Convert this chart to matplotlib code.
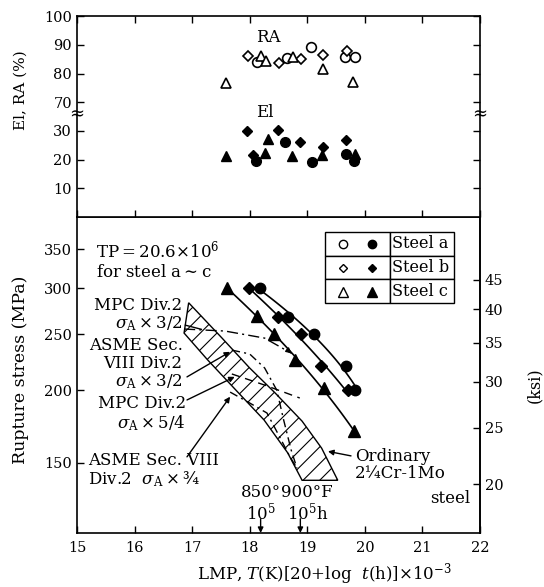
import numpy as np
import matplotlib
matplotlib.use("Agg")
import matplotlib.pyplot as plt
from matplotlib.ticker import NullLocator

plt.rcParams['font.family'] = ['DejaVu Serif']
plt.rcParams['mathtext.fontset'] = 'dejavuserif'
plt.rcParams['hatch.linewidth'] = 0.8

# rupture data: LMP (x10^-3) vs rupture stress (MPa)
a_lmp = [18.18, 18.66, 19.11, 19.68, 19.83]
a_stress = [300, 267, 250, 220, 200]
b_lmp = [17.98, 18.49, 18.89, 19.24, 19.70]
b_stress = [300, 267, 250, 220, 200]
c_lmp = [17.60, 18.13, 18.42, 18.79, 19.29, 19.81]
c_stress = [300, 269, 250, 226, 202, 170]

# reduction of area (%)
a_ra_lmp = [18.13, 18.65, 19.06, 19.65, 19.83]
a_ra = [84.0, 85.4, 89.2, 85.8, 85.8]
b_ra_lmp = [17.97, 18.51, 18.89, 19.27, 19.69]
b_ra = [86.1, 83.7, 85.2, 86.3, 87.8]
c_ra_lmp = [17.59, 18.19, 18.28, 18.75, 19.28, 19.80]
c_ra = [76.7, 86.1, 84.4, 85.8, 81.6, 77.1]

# elongation (%)
a_el_lmp = [18.11, 18.61, 19.09, 19.67, 19.81]
a_el = [19.5, 26.1, 19.2, 22.1, 19.5]
b_el_lmp = [17.96, 18.06, 18.49, 18.87, 19.27, 19.68]
b_el = [30.0, 21.5, 30.2, 26.1, 24.4, 26.7]
c_el_lmp = [17.59, 18.26, 18.31, 18.74, 19.25, 19.83]
c_el = [21.2, 22.3, 27.3, 21.2, 21.5, 21.9]

# scatter band of ordinary 2.25Cr-1Mo steel
band_hi_lmp = [16.94, 17.52, 18.00, 18.44, 18.91, 19.25, 19.53]
band_hi_stress = [283, 246, 218.5, 198, 177, 159, 140]
band_lo_lmp = [16.86, 17.27, 17.76, 18.25, 18.66, 18.91]
band_lo_stress = [251, 225.6, 200.2, 177.8, 156.1, 140]

# design allowable curves
mpc32_lmp = [16.86, 17.57, 18.26, 18.73]
mpc32_stress = [255, 253, 246, 231.5]
asme32_lmp = [17.69, 18.00, 18.26, 18.47, 18.59, 18.72, 18.82]
asme32_stress = [234.6, 231, 218.5, 200.2, 177.8, 157.9, 147]
mpc54_lmp = [17.69, 18.26, 18.87]
mpc54_stress = [213.4, 204.2, 194]
asme34_lmp = [17.66, 18.00, 18.30, 18.52, 18.70, 18.82]
asme34_stress = [198.6, 190.2, 182.8, 166.3, 153.6, 147]

# 850F / 900F at 1e5 h
ref_lmp = [18.19, 18.88]

steels = [
    (a_lmp, a_stress, a_ra_lmp, a_ra, a_el_lmp, a_el, 'o', 7.5),
    (b_lmp, b_stress, b_ra_lmp, b_ra, b_el_lmp, b_el, 'D', 6),
    (c_lmp, c_stress, c_ra_lmp, c_ra, c_el_lmp, c_el, '^', 8),
]

fig = plt.figure(figsize=(5.44, 5.87), dpi=100)
ax = fig.add_axes([0.1415, 0.092, 0.7408, 0.5383])
ax_el = fig.add_axes([0.1415, 0.6303, 0.7408, 0.1746], sharex=ax)
ax_ra = fig.add_axes([0.1415, 0.8049, 0.7408, 0.1678], sharex=ax)
ax_ra.patch.set_visible(False)

for a in (ax, ax_el, ax_ra):
    for s in a.spines.values():
        s.set_linewidth(1.2)

# ---- lower panel ----
ax.set_yscale('log')
ax.set_xlim(15, 22)
ax.set_ylim(113.6, 397.6)

band_x = np.r_[band_hi_lmp, band_lo_lmp[::-1]]
band_y = np.r_[band_hi_stress, band_lo_stress[::-1]]
ax.fill(band_x, band_y, facecolor='none', edgecolor='black', hatch='//', lw=1.0)

for lmp, stress, _, _, _, _, m, ms in steels:
    fit = np.polyfit(np.log10(stress), lmp, 2)
    ls = np.linspace(np.log10(min(stress)), np.log10(max(stress)), 50)
    ax.plot(np.polyval(fit, ls), 10 ** ls, color='black', lw=1.2)
    ax.plot(lmp, stress, m, color='black', ms=ms, ls='none')

ax.plot(mpc32_lmp, mpc32_stress, color='black', lw=1.0, ls=(0, (8, 3, 1.5, 3)))
ax.plot(asme32_lmp, asme32_stress, color='black', lw=1.0, ls=(0, (6, 3, 1.5, 3)))
ax.plot(mpc54_lmp, mpc54_stress, color='black', lw=1.0, ls=(0, (6, 4)))
ax.plot(asme34_lmp, asme34_stress, color='black', lw=1.0, ls=(0, (6, 3, 1.5, 3)))

arr = dict(arrowstyle='-|>', color='black', lw=1.0, mutation_scale=8, shrinkA=0, shrinkB=0)
# arrow head at the end of the MPC x3/2 curve
ax.annotate('', xy=(mpc32_lmp[-1], mpc32_stress[-1]),
            xytext=(mpc32_lmp[-1] - 0.08, mpc32_stress[-1] + 3.5), arrowprops=arr)

tfs = 12
ax.text(0.047, 0.93, 'TP$=$20.6$\\times$10$^6$\nfor steel a$\\sim$c', transform=ax.transAxes,
        fontsize=tfs, va='top', ha='left', linespacing=1.2)
ax.text(0.262, 0.69, 'MPC Div.2\n$\\sigma_{\\rm A}\\times$3/2', transform=ax.transAxes,
        fontsize=tfs, ha='right', va='center', ma='right', linespacing=1.05)
ax.text(0.262, 0.535, 'ASME Sec.\nVIII Div.2\n$\\sigma_{\\rm A}\\times$3/2', transform=ax.transAxes,
        fontsize=tfs, ha='right', va='center', ma='right', linespacing=1.05)
ax.text(0.27, 0.377, 'MPC Div.2\n$\\sigma_{\\rm A}\\times$5/4', transform=ax.transAxes,
        fontsize=tfs, ha='right', va='center', ma='right', linespacing=1.05)
ax.text(0.028, 0.197, 'ASME Sec. VIII\nDiv.2  $\\sigma_{\\rm A}\\times$¾', transform=ax.transAxes,
        fontsize=tfs, ha='left', va='center', linespacing=1.05)
ax.text(0.69, 0.215, 'Ordinary\n2¼Cr-1Mo', transform=ax.transAxes,
        fontsize=tfs, ha='left', va='center', linespacing=1.05)
ax.text(0.975, 0.11, 'steel', transform=ax.transAxes, fontsize=tfs, ha='right', va='center')

# leaders
ax.annotate('', xy=(mpc32_lmp[0] + 0.35, mpc32_stress[0] - 1), xytext=(0.262, 0.66),
            textcoords='axes fraction', arrowprops=dict(arrowstyle='-', lw=1.0, color='black'))
ax.annotate('', xy=(17.66, 233), xytext=(0.273, 0.494), textcoords='axes fraction', arrowprops=arr)
ax.annotate('', xy=(17.74, 211), xytext=(0.273, 0.421), textcoords='axes fraction', arrowprops=arr)
ax.annotate('', xy=(17.66, 195), xytext=(0.273, 0.241), textcoords='axes fraction', arrowprops=arr)
ax.annotate('', xy=(19.36, 157), xytext=(0.68, 0.244), textcoords='axes fraction', arrowprops=arr)

ax.text(18.2, 0.092, '850°\n10$^5$', transform=ax.get_xaxis_transform(),
        fontsize=tfs, ha='center', va='center', linespacing=1.0)
ax.text(19.0, 0.092, '900°F\n10$^5$h', transform=ax.get_xaxis_transform(),
        fontsize=tfs, ha='center', va='center', linespacing=1.0)
for xv in ref_lmp:
    ax.annotate('', xy=(xv, 0), xycoords=('data', 'axes fraction'),
                xytext=(xv, 0.045), textcoords=('data', 'axes fraction'), arrowprops=arr)

ax.set_xticks(range(15, 23), labels=[str(v) for v in range(15, 23)])
ax.set_yticks([150, 200, 250, 300, 350], labels=['150', '200', '250', '300', '350'])
ax.yaxis.set_minor_locator(NullLocator())
ax.tick_params(direction='in', length=5, width=1, labelsize=10.5, top=False, right=False)
ax.tick_params(axis='x', pad=6)

sec = ax.secondary_yaxis('right', functions=(lambda s: s / 6.895, lambda k: k * 6.895))
sec.set_yticks([20, 25, 30, 35, 40, 45], labels=['20', '25', '30', '35', '40', '45'])
sec.yaxis.set_minor_locator(NullLocator())
sec.tick_params(direction='in', length=5, width=1, labelsize=10.5)
sec.spines['right'].set_linewidth(1.2)

# legend table
tab = ax.table(cellText=[['', 'Steel a'], ['', 'Steel b'], ['', 'Steel c']],
               colWidths=[0.504, 0.496], cellLoc='left', bbox=[0.615, 0.728, 0.3205, 0.2245])
tab.auto_set_font_size(False)
tab.set_fontsize(11.5)
for cell in tab.get_celld().values():
    cell.set_linewidth(1.0)
    cell.PAD = 0.03
for row, (_, _, _, _, _, _, m, ms) in zip([0.9146, 0.8386, 0.764], steels):
    ax.plot([0.660], [row], m, mfc='white', mec='black', ms=ms - 1.5, transform=ax.transAxes)
    ax.plot([0.732], [row], m, color='black', ms=ms - 1.5, transform=ax.transAxes)

# ---- upper panels ----
for _, _, ra_x, ra_y, el_x, el_y, m, ms in steels:
    ax_ra.plot(ra_x, ra_y, m, mfc='white', mec='black', mew=1.2, ms=ms - 0.5, ls='none')
    ax_el.plot(el_x, el_y, m, color='black', ms=ms - 0.5, ls='none')

ax_ra.set_ylim(65.8, 100)
ax_el.set_ylim(0, 35.7)
ax_ra.spines['bottom'].set_visible(False)
ax_el.spines['top'].set_visible(False)

ax_ra.set_yticks([70, 80, 90, 100], labels=['70', '80', '90', '100'])
ax_el.set_yticks([10, 20, 30], labels=['10', '20', '30'])
ax_ra.set_xticks([15.45, 16.58, 17.71, 18.84, 19.97, 21.09])
ax_ra.tick_params(direction='in', length=5, width=1, labelsize=10.5, right=True, top=True,
                  bottom=False, labelbottom=False)
ax_el.tick_params(direction='in', length=5, width=1, labelsize=10.5, right=True,
                  labelbottom=False)
ax_el.set_xticks(range(15, 23))

ax_ra.text(18.33, 92.7, 'RA', fontsize=12, ha='center', va='center')
ax_el.text(18.26, 36.5, 'El', fontsize=12, ha='center', va='center')
for xpos in (0, 1):
    ax_ra.text(xpos, 0, '≈', transform=ax_ra.transAxes, fontsize=13, ha='center', va='center')

fig.text(21 / 544, 1 - 90 / 587, 'El, RA (%)', rotation=90, fontsize=11, ha='center', va='center')
fig.text(21 / 544, 1 - 370 / 587, 'Rupture stress (MPa)', rotation=90, fontsize=12.5,
         ha='center', va='center')
fig.text(535 / 544, 1 - 385 / 587, '(ksi)', rotation=90, fontsize=11.5, ha='center', va='center')
fig.text(324 / 544, 1 - 574 / 587, 'LMP, $T$(K)[20+log  $t$(h)]$\\times$10$^{-3}$',
         fontsize=12, ha='center', va='center')

fig.savefig('out.png', dpi=100)
